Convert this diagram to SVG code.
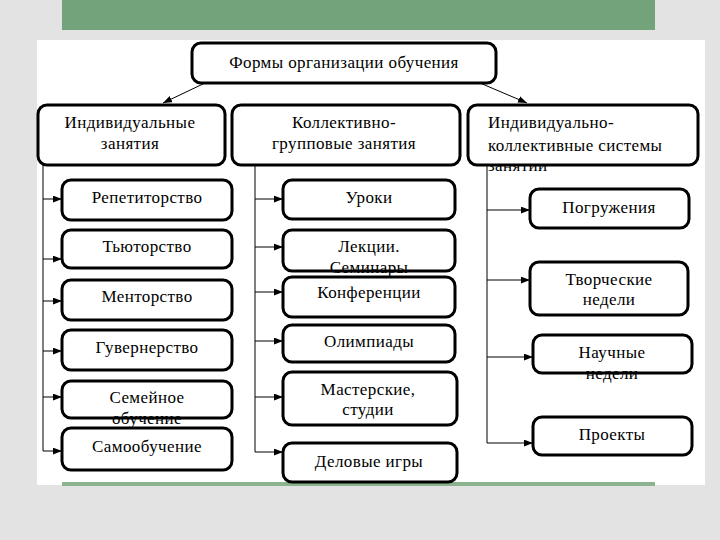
<svg xmlns="http://www.w3.org/2000/svg" width="720" height="540" viewBox="0 0 720 540">
<style>
.box{fill:#fff;stroke:#000;stroke-width:3}
.t{font-family:"Liberation Serif","DejaVu Serif",serif;font-size:17px;letter-spacing:0.4px;fill:#000;text-anchor:middle}
.l{text-anchor:start}
.c{fill:none;stroke:#000;stroke-width:1}
</style>
<defs>
<marker id="ah" markerUnits="userSpaceOnUse" viewBox="0 0 8 6" refX="8" refY="3" markerWidth="9" markerHeight="7" orient="auto">
<path d="M0,0 L8,3 L0,6 Z" fill="#000"/>
</marker>
</defs>
<rect x="0" y="0" width="720" height="540" fill="#e3e3e3"/>
<rect x="62" y="0" width="593" height="30" fill="#73a37a"/>
<rect x="37" y="40" width="668" height="445" fill="#fff"/>
<rect x="62" y="482" width="593" height="4" fill="#8ab38e"/>

<g id="connectors">
<path class="c" d="M205,83 L163,103" marker-end="url(#ah)"/>
<path class="c" d="M480,83 L527,103" marker-end="url(#ah)"/>
<path class="c" d="M43,165 V451"/>
<path class="c" d="M43,199 H62" marker-end="url(#ah)"/>
<path class="c" d="M43,259 H62" marker-end="url(#ah)"/>
<path class="c" d="M43,301 H62" marker-end="url(#ah)"/>
<path class="c" d="M43,351 H62" marker-end="url(#ah)"/>
<path class="c" d="M43,397 H62" marker-end="url(#ah)"/>
<path class="c" d="M43,451 H62" marker-end="url(#ah)"/>
<path class="c" d="M255,165 V452"/>
<path class="c" d="M255,199 H283" marker-end="url(#ah)"/>
<path class="c" d="M255,247 H283" marker-end="url(#ah)"/>
<path class="c" d="M255,292 H283" marker-end="url(#ah)"/>
<path class="c" d="M255,341 H283" marker-end="url(#ah)"/>
<path class="c" d="M255,397 H283" marker-end="url(#ah)"/>
<path class="c" d="M255,452 H283" marker-end="url(#ah)"/>
<path class="c" d="M487,165 V443"/>
<path class="c" d="M487,210 H530" marker-end="url(#ah)"/>
<path class="c" d="M487,280 H530" marker-end="url(#ah)"/>
<path class="c" d="M487,357 H533" marker-end="url(#ah)"/>
<path class="c" d="M487,443 H533" marker-end="url(#ah)"/>
</g>

<g id="root">
<rect class="box" x="192" y="43" width="304" height="40" rx="9"/>
<text class="t" x="344" y="68">Формы организации обучения</text>
</g>

<g id="h1">
<rect class="box" x="38" y="105" width="187" height="60" rx="9"/>
<text class="t" x="130" y="128">Индивидуальные</text>
<text class="t" x="130" y="149">занятия</text>
</g>
<g id="h2">
<rect class="box" x="232" y="105" width="228" height="60" rx="9"/>
<text class="t" x="344" y="128">Коллективно-</text>
<text class="t" x="344" y="149">групповые занятия</text>
</g>
<g id="h3">
<text class="t l" x="488" y="171">занятий</text>
<rect class="box" x="468" y="105" width="230" height="60" rx="9"/>
<text class="t l" x="488" y="128">Индивидуально-</text>
<text class="t l" x="488" y="151">коллективные системы</text>
</g>

<g id="n-repetitorstvo">
<rect class="box" x="62" y="180" width="170" height="40" rx="9"/>
<text class="t" x="147" y="203">Репетиторство</text>
</g>
<g id="n-tyutorstvo">
<rect class="box" x="62" y="230" width="170" height="38" rx="9"/>
<text class="t" x="147" y="252">Тьюторство</text>
</g>
<g id="n-mentorstvo">
<rect class="box" x="62" y="280" width="170" height="40" rx="9"/>
<text class="t" x="147" y="302">Менторство</text>
</g>
<g id="n-guvernerstvo">
<rect class="box" x="62" y="330" width="170" height="40" rx="9"/>
<text class="t" x="147" y="353">Гувернерство</text>
</g>
<g id="n-semeynoe">
<rect class="box" x="62" y="381" width="170" height="37" rx="9"/>
<text class="t" x="147" y="403">Семейное</text>
<text class="t" x="147" y="424">обучение</text>
</g>
<g id="n-samoobuchenie">
<rect class="box" x="62" y="428" width="170" height="42" rx="9"/>
<text class="t" x="147" y="452">Самообучение</text>
</g>

<g id="n-uroki">
<rect class="box" x="283" y="180" width="172" height="39" rx="9"/>
<text class="t" x="369" y="203">Уроки</text>
</g>
<g id="n-lekcii">
<rect class="box" x="283" y="230" width="172" height="41" rx="9"/>
<text class="t" x="369" y="252">Лекции.</text>
<text class="t" x="369" y="273">Семинары</text>
</g>
<g id="n-konferencii">
<rect class="box" x="283" y="277" width="172" height="40" rx="9"/>
<text class="t" x="369" y="298">Конференции</text>
</g>
<g id="n-olimpiady">
<rect class="box" x="283" y="325" width="172" height="37" rx="9"/>
<text class="t" x="369" y="347">Олимпиады</text>
</g>
<g id="n-masterskie">
<rect class="box" x="283" y="372" width="174" height="53" rx="9"/>
<text class="t" x="368" y="395">Мастерские,</text>
<text class="t" x="368" y="415">студии</text>
</g>
<g id="n-delovye">
<rect class="box" x="283" y="443" width="174" height="39" rx="9"/>
<text class="t" x="369" y="467">Деловые игры</text>
</g>

<g id="n-pogruzheniya">
<rect class="box" x="530" y="189" width="159" height="39" rx="9"/>
<text class="t" x="609" y="213">Погружения</text>
</g>
<g id="n-tvorcheskie">
<rect class="box" x="530" y="262" width="158" height="53" rx="9"/>
<text class="t" x="609" y="285">Творческие</text>
<text class="t" x="609" y="305">недели</text>
</g>
<g id="n-nauchnye">
<rect class="box" x="533" y="335" width="159" height="38" rx="9"/>
<text class="t" x="612" y="358">Научные</text>
<text class="t" x="612" y="379">недели</text>
</g>
<g id="n-proekty">
<rect class="box" x="533" y="417" width="159" height="38" rx="9"/>
<text class="t" x="612" y="440">Проекты</text>
</g>
</svg>
